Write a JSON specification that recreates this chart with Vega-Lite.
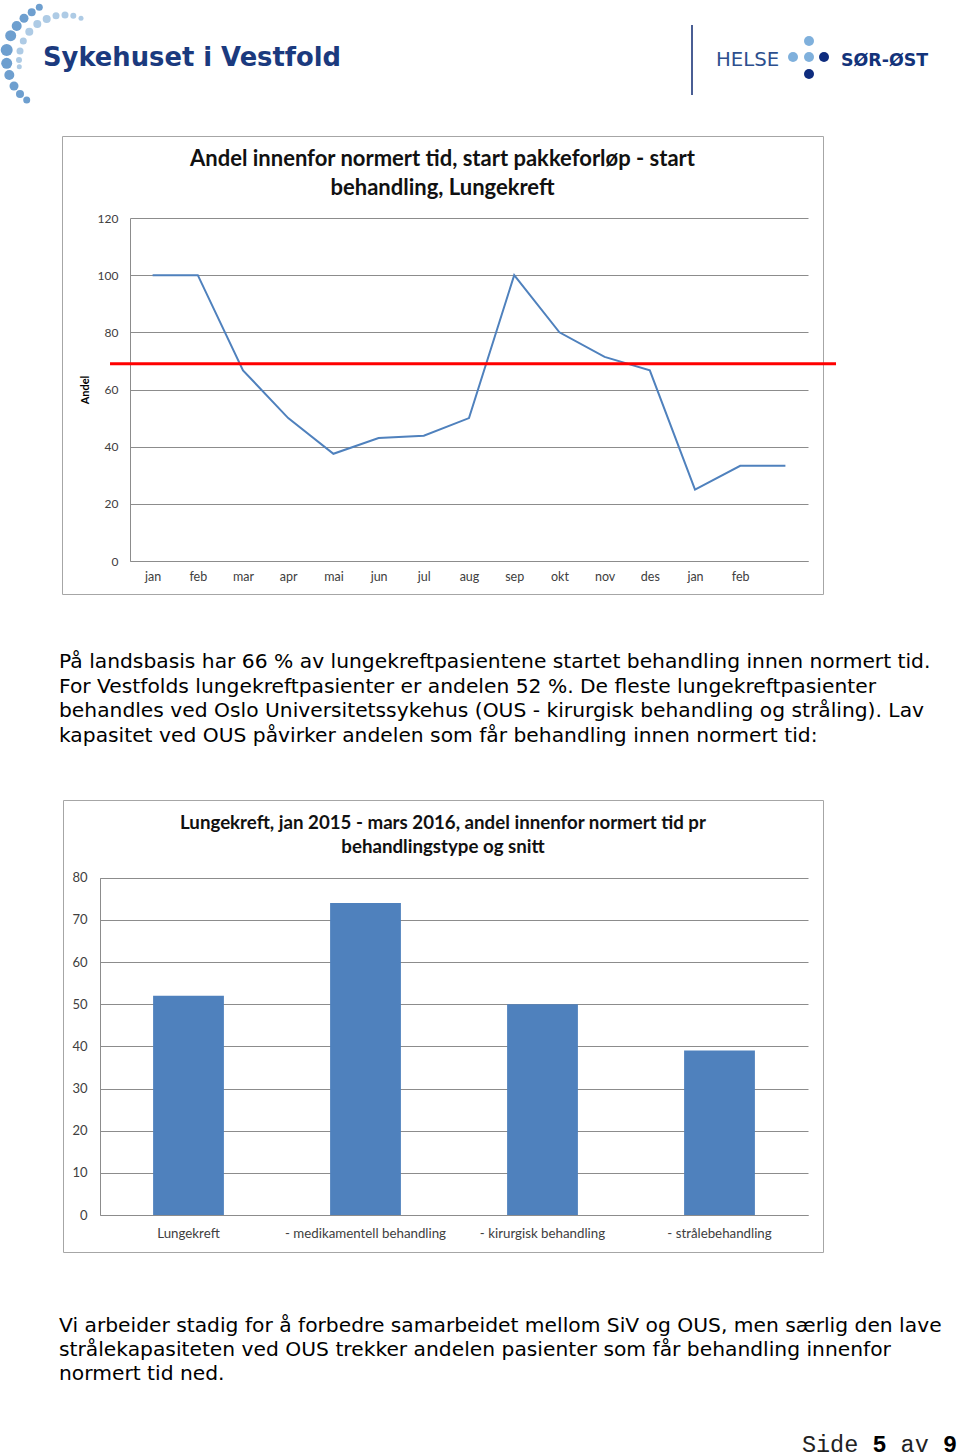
{
  "$schema": "https://vega.github.io/schema/vega-lite/v6.json",
  "background": "white",
  "padding": 0,
  "spacing": 0,
  "config": {"view": {"stroke": null}},
  "vconcat": [
    {
      "width": 960,
      "height": 135,
      "layer": [
        {
          "data": {"values": [
            {"x": 39.3, "y": 7.3, "d": 7, "tone": "ytre"},
            {"x": 31.7, "y": 12.3, "d": 8, "tone": "ytre"},
            {"x": 24, "y": 18.3, "d": 9, "tone": "ytre"},
            {"x": 16.7, "y": 26, "d": 10, "tone": "ytre"},
            {"x": 10.7, "y": 35.7, "d": 11, "tone": "ytre"},
            {"x": 6.7, "y": 50, "d": 12, "tone": "ytre"},
            {"x": 6.7, "y": 63.3, "d": 11, "tone": "ytre"},
            {"x": 9.3, "y": 75, "d": 10, "tone": "ytre"},
            {"x": 14, "y": 86, "d": 9, "tone": "ytre"},
            {"x": 20, "y": 94, "d": 8, "tone": "ytre"},
            {"x": 26.7, "y": 100, "d": 7, "tone": "ytre"},
            {"x": 81, "y": 18.3, "d": 5, "tone": "indre"},
            {"x": 73.3, "y": 15.7, "d": 6, "tone": "indre"},
            {"x": 65, "y": 15, "d": 7, "tone": "indre"},
            {"x": 56, "y": 15.7, "d": 7, "tone": "indre"},
            {"x": 46.7, "y": 19, "d": 8, "tone": "indre"},
            {"x": 37.3, "y": 24, "d": 8, "tone": "indre"},
            {"x": 29.3, "y": 31.7, "d": 8, "tone": "indre"},
            {"x": 23.3, "y": 41, "d": 7, "tone": "indre"},
            {"x": 20, "y": 51, "d": 7, "tone": "indre"},
            {"x": 19, "y": 60, "d": 6, "tone": "indre"},
            {"x": 19.3, "y": 66.7, "d": 5, "tone": "indre"},
            {"x": 809, "y": 41, "d": 10, "tone": "lys"},
            {"x": 793, "y": 57, "d": 10, "tone": "lys"},
            {"x": 809, "y": 57, "d": 10, "tone": "lys"},
            {"x": 824, "y": 57, "d": 10, "tone": "mork"},
            {"x": 809, "y": 74, "d": 10, "tone": "mork"}
          ]},
          "mark": {"type": "circle", "opacity": 1},
          "encoding": {
            "x": {"field": "x", "type": "quantitative", "scale": {"domain": [0, 960], "nice": false, "zero": false}, "axis": null},
            "y": {"field": "y", "type": "quantitative", "scale": {"domain": [0, 135], "nice": false, "zero": false, "reverse": true}, "axis": null},
            "size": {"field": "d", "type": "quantitative", "scale": {"type": "pow", "exponent": 2, "domain": [0, 12], "range": [0, 144]}, "legend": null},
            "color": {"field": "tone", "type": "nominal", "scale": {"domain": ["ytre", "indre", "lys", "mork"], "range": ["#6e9fcf", "#aecbe5", "#7fb0dc", "#0e2c7e"]}, "legend": null}
          }
        },
        {
          "data": {"values": [{"x": 692, "y": 25, "y2": 95}]},
          "mark": {"type": "rule", "color": "#4a5e94", "strokeWidth": 2},
          "encoding": {
            "x": {"field": "x", "type": "quantitative", "scale": {"domain": [0, 960], "nice": false, "zero": false}, "axis": null},
            "y": {"field": "y", "type": "quantitative", "scale": {"domain": [0, 135], "nice": false, "zero": false, "reverse": true}, "axis": null},
            "y2": {"field": "y2"}
          }
        },
        {
          "data": {"values": [{"x": 43, "y": 66, "tekst": "Sykehuset i Vestfold"}]},
          "mark": {"type": "text", "align": "left", "baseline": "alphabetic", "font": "DejaVu Sans", "fontWeight": "bold", "fontSize": 25.8, "fill": "#1b3a7e"},
          "encoding": {
            "x": {"field": "x", "type": "quantitative", "scale": {"domain": [0, 960], "nice": false, "zero": false}, "axis": null},
            "y": {"field": "y", "type": "quantitative", "scale": {"domain": [0, 135], "nice": false, "zero": false, "reverse": true}, "axis": null},
            "text": {"field": "tekst"}
          }
        },
        {
          "data": {"values": [{"x": 716, "y": 65.7, "tekst": "HELSE"}]},
          "mark": {"type": "text", "align": "left", "baseline": "alphabetic", "font": "DejaVu Sans", "fontSize": 19.7, "fill": "#2d4f8e"},
          "encoding": {
            "x": {"field": "x", "type": "quantitative", "scale": {"domain": [0, 960], "nice": false, "zero": false}, "axis": null},
            "y": {"field": "y", "type": "quantitative", "scale": {"domain": [0, 135], "nice": false, "zero": false, "reverse": true}, "axis": null},
            "text": {"field": "tekst"}
          }
        },
        {
          "data": {"values": [{"x": 841, "y": 65.7, "tekst": "SØR-ØST"}]},
          "mark": {"type": "text", "align": "left", "baseline": "alphabetic", "font": "DejaVu Sans", "fontWeight": "bold", "fontSize": 17.4, "fill": "#13337a"},
          "encoding": {
            "x": {"field": "x", "type": "quantitative", "scale": {"domain": [0, 960], "nice": false, "zero": false}, "axis": null},
            "y": {"field": "y", "type": "quantitative", "scale": {"domain": [0, 135], "nice": false, "zero": false, "reverse": true}, "axis": null},
            "text": {"field": "tekst"}
          }
        }
      ]
    },
    {
      "hconcat": [
        {"width": 61, "height": 458, "data": {"values": []}, "mark": "point", "encoding": {}},
        {
          "width": 761,
          "height": 458,
          "view": {"stroke": "#a6a6a6", "strokeWidth": 1, "fill": "white"},
          "title": {
            "text": ["Andel innenfor normert tid, start pakkeforløp - start", "behandling, Lungekreft"],
            "anchor": "middle", "frame": "group", "offset": -63.5, "baseline": "top",
            "font": "Lato", "fontSize": 22, "fontWeight": "bold", "color": "#111111", "lineHeight": 29
          },
          "data": {"values": [
            {"maned": "jan 2015", "andel": 100},
            {"maned": "feb 2015", "andel": 100},
            {"maned": "mar 2015", "andel": 66.7},
            {"maned": "apr 2015", "andel": 50},
            {"maned": "mai 2015", "andel": 37.5},
            {"maned": "jun 2015", "andel": 43},
            {"maned": "jul 2015", "andel": 43.8},
            {"maned": "aug 2015", "andel": 50},
            {"maned": "sep 2015", "andel": 100},
            {"maned": "okt 2015", "andel": 80},
            {"maned": "nov 2015", "andel": 71.4},
            {"maned": "des 2015", "andel": 66.7},
            {"maned": "jan 2016", "andel": 25},
            {"maned": "feb 2016", "andel": 33.3},
            {"maned": "mar 2016", "andel": 33.3}
          ]},
          "layer": [
            {
              "mark": {"type": "line", "color": "#4f81bd", "strokeWidth": 2},
              "encoding": {
                "x": {
                  "field": "maned", "type": "ordinal", "sort": null,
                  "scale": {"type": "point", "padding": 0.5, "range": [68, 746]},
                  "axis": {
                    "title": null, "offset": -33, "labelAngle": 0, "ticks": false, "grid": false,
                    "domainColor": "#8c8c8c", "labelPadding": 9, "labelFont": "Lato", "labelFontSize": 12.5,
                    "labelColor": "#404040",
                    "labelExpr": "datum.label == 'mar 2016' ? '' : substring(datum.label, 0, 3)"
                  }
                },
                "y": {
                  "field": "andel", "type": "quantitative",
                  "scale": {"domain": [0, 120], "range": [425, 82], "nice": false},
                  "axis": {
                    "title": "Andel", "values": [0, 20, 40, 60, 80, 100, 120], "offset": -68,
                    "ticks": false, "grid": true, "gridColor": "#8c8c8c", "domainColor": "#8c8c8c",
                    "labelPadding": 12, "labelFont": "Lato", "labelFontSize": 12, "labelColor": "#404040",
                    "titleFont": "Lato", "titleFontSize": 11, "titleFontWeight": "bold", "titleColor": "#000000",
                    "titleAngle": -90, "titleX": -45, "titleY": 253.5, "titleBaseline": "middle", "titleAlign": "center"
                  }
                }
              }
            },
            {
              "data": {"values": [{}]},
              "mark": {"type": "rule", "color": "#ff0000", "strokeWidth": 3},
              "encoding": {
                "x": {"datum": 0.0631, "type": "quantitative", "scale": {"domain": [0, 1], "range": [0, 761]}, "axis": null},
                "x2": {"datum": 1.0171},
                "y": {"datum": 69, "type": "quantitative"}
              }
            }
          ],
          "resolve": {"scale": {"x": "independent"}, "axis": {"x": "independent"}}
        }
      ],
      "spacing": 0
    },
    {
      "hconcat": [
        {"width": 59, "height": 204, "data": {"values": []}, "mark": "point", "encoding": {}},
        {
          "width": 901,
          "height": 204,
          "data": {"values": [
            {"linje": 1, "tekst": "På landsbasis har 66 % av lungekreftpasientene startet behandling innen normert tid."},
            {"linje": 2, "tekst": "For Vestfolds lungekreftpasienter er andelen 52 %. De fleste lungekreftpasienter"},
            {"linje": 3, "tekst": "behandles ved Oslo Universitetssykehus (OUS - kirurgisk behandling og stråling). Lav"},
            {"linje": 4, "tekst": "kapasitet ved OUS påvirker andelen som får behandling innen normert tid:"}
          ]},
          "mark": {"type": "text", "align": "left", "baseline": "alphabetic", "font": "DejaVu Sans", "fontSize": 20.25, "fill": "#000000"},
          "encoding": {
            "x": {"value": 0},
            "y": {"field": "linje", "type": "ordinal", "scale": {"type": "point", "range": [73, 146.5], "padding": 0}, "axis": null},
            "text": {"field": "tekst"}
          }
        }
      ],
      "spacing": 0
    },
    {
      "hconcat": [
        {"width": 62, "height": 452, "data": {"values": []}, "mark": "point", "encoding": {}},
        {
          "width": 760,
          "height": 452,
          "view": {"stroke": "#a6a6a6", "strokeWidth": 1, "fill": "white"},
          "title": {
            "text": ["Lungekreft, jan 2015 - mars 2016, andel innenfor normert tid pr", "behandlingstype og snitt"],
            "anchor": "middle", "frame": "group", "offset": -57, "baseline": "top",
            "font": "Lato", "fontSize": 18.7, "fontWeight": "bold", "color": "#111111", "lineHeight": 24
          },
          "data": {"values": [
            {"type": "Lungekreft", "andel": 52},
            {"type": "- medikamentell behandling", "andel": 74},
            {"type": "- kirurgisk behandling", "andel": 50},
            {"type": "- strålebehandling", "andel": 39}
          ]},
          "mark": {"type": "bar", "color": "#4f81bd"},
          "encoding": {
            "x": {
              "field": "type", "type": "nominal", "sort": null,
              "scale": {"range": [37, 745], "paddingInner": 0.6, "paddingOuter": 0.3},
              "axis": {
                "title": null, "offset": -37, "labelAngle": 0, "ticks": false, "domainColor": "#8c8c8c",
                "labelPadding": 11, "labelFont": "Lato", "labelFontSize": 13.3, "labelColor": "#404040"
              }
            },
            "y": {
              "field": "andel", "type": "quantitative",
              "scale": {"domain": [0, 80], "range": [415, 77.7], "nice": false},
              "axis": {
                "title": null, "values": [0, 10, 20, 30, 40, 50, 60, 70, 80], "offset": -37,
                "ticks": false, "grid": true, "gridColor": "#8c8c8c", "domainColor": "#8c8c8c",
                "labelPadding": 13, "labelFont": "Lato", "labelFontSize": 13, "labelColor": "#404040"
              }
            }
          }
        }
      ],
      "spacing": 0
    },
    {
      "hconcat": [
        {"width": 59, "height": 204, "data": {"values": []}, "mark": "point", "encoding": {}},
        {
          "width": 901,
          "height": 204,
          "layer": [
            {
              "data": {"values": [
                {"linje": 1, "tekst": "Vi arbeider stadig for å forbedre samarbeidet mellom SiV og OUS, men særlig den lave"},
                {"linje": 2, "tekst": "strålekapasiteten ved OUS trekker andelen pasienter som får behandling innenfor"},
                {"linje": 3, "tekst": "normert tid ned."}
              ]},
              "mark": {"type": "text", "align": "left", "baseline": "alphabetic", "font": "DejaVu Sans", "fontSize": 20.25, "fill": "#000000"},
              "encoding": {
                "x": {"value": 0},
                "y": {"field": "linje", "type": "ordinal", "scale": {"type": "point", "domain": [1, 2, 3, 4, 5, 6], "range": [79, 198.5], "padding": 0}, "axis": null},
                "text": {"field": "tekst"}
              }
            },
            {
              "data": {"values": [{"linje": 6, "tekst": "Side"}]},
              "mark": {"type": "text", "align": "right", "baseline": "alphabetic", "font": "Liberation Mono", "fontSize": 23.5, "fill": "#222222", "dx": -101.7},
              "encoding": {
                "x": {"value": "width"},
                "y": {"field": "linje", "type": "ordinal", "scale": {"type": "point", "domain": [1, 2, 3, 4, 5, 6], "range": [79, 198.5], "padding": 0}, "axis": null},
                "text": {"field": "tekst"}
              }
            },
            {
              "data": {"values": [{"linje": 6, "tekst": "5"}]},
              "mark": {"type": "text", "align": "right", "baseline": "alphabetic", "font": "Liberation Mono", "fontWeight": "bold", "fontSize": 23.5, "fill": "#000000", "dx": -73.5},
              "encoding": {
                "x": {"value": "width"},
                "y": {"field": "linje", "type": "ordinal", "scale": {"type": "point", "domain": [1, 2, 3, 4, 5, 6], "range": [79, 198.5], "padding": 0}, "axis": null},
                "text": {"field": "tekst"}
              }
            },
            {
              "data": {"values": [{"linje": 6, "tekst": "av"}]},
              "mark": {"type": "text", "align": "right", "baseline": "alphabetic", "font": "Liberation Mono", "fontSize": 23.5, "fill": "#222222", "dx": -31.2},
              "encoding": {
                "x": {"value": "width"},
                "y": {"field": "linje", "type": "ordinal", "scale": {"type": "point", "domain": [1, 2, 3, 4, 5, 6], "range": [79, 198.5], "padding": 0}, "axis": null},
                "text": {"field": "tekst"}
              }
            },
            {
              "data": {"values": [{"linje": 6, "tekst": "9"}]},
              "mark": {"type": "text", "align": "right", "baseline": "alphabetic", "font": "Liberation Mono", "fontWeight": "bold", "fontSize": 23.5, "fill": "#000000", "dx": -3},
              "encoding": {
                "x": {"value": "width"},
                "y": {"field": "linje", "type": "ordinal", "scale": {"type": "point", "domain": [1, 2, 3, 4, 5, 6], "range": [79, 198.5], "padding": 0}, "axis": null},
                "text": {"field": "tekst"}
              }
            }
          ]
        }
      ],
      "spacing": 0
    }
  ]
}
